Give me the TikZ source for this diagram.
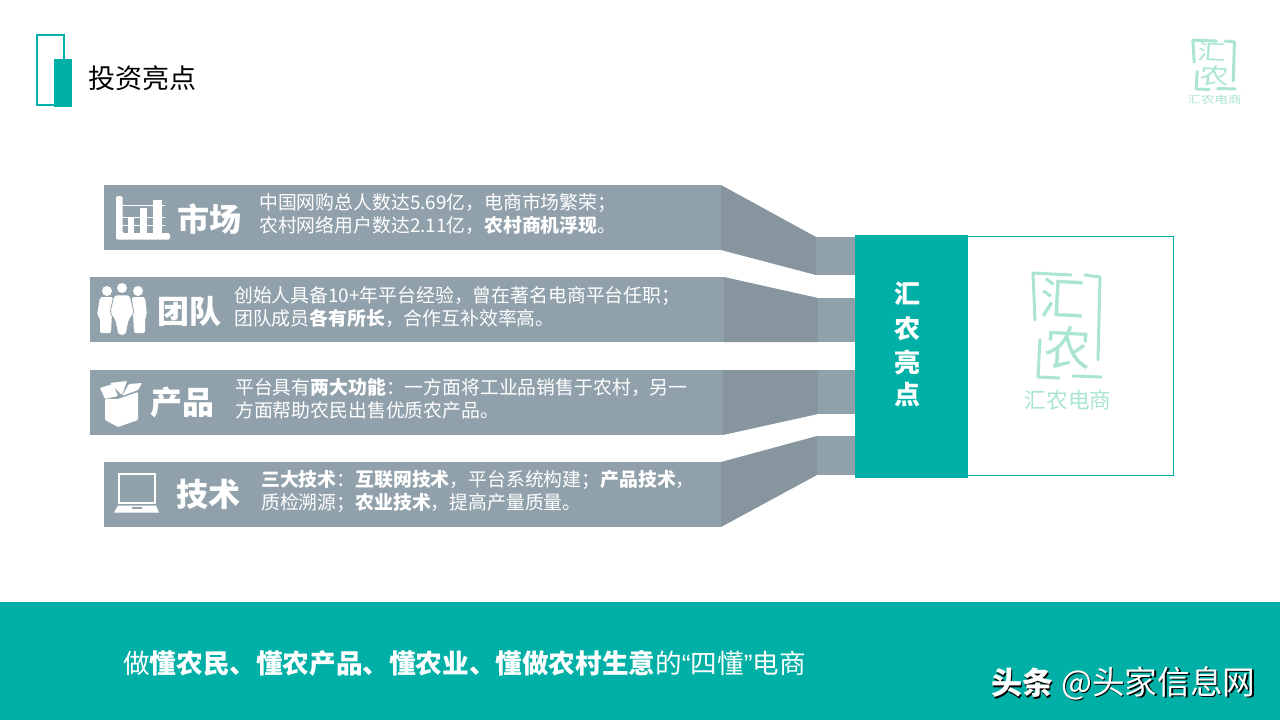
\documentclass[tikz,border=0pt]{standalone}
\usepackage{fontspec}
\setmainfont{Noto Sans CJK SC}
\newfontfamily\latinq{Liberation Sans}
\newcommand{\fs}[2]{\fontsize{#1}{#2}\selectfont}
\newcommand{\cmm}{\symbol{"FF0C}}
\newcommand{\sem}{\symbol{"FF1B}}
\newcommand{\cln}{\symbol{"FF1A}}
\definecolor{teal1}{HTML}{00AFA5}
\definecolor{bar1}{HTML}{91A1AB}
\definecolor{side1}{HTML}{87959E}
\definecolor{mint1}{HTML}{A9E5D0}
\tikzset{
  x=1pt,y=-1pt,
  barbox/.style={fill=bar1,draw=none},
  sidebox/.style={fill=side1,draw=none},
  icon/.style={fill=white,draw=none},
  bodytext/.style={anchor=west,inner sep=0pt,text=white,align=left,font=\fs{18.85}{23}},
  headtext/.style={anchor=center,inner sep=0pt,text=white,font=\fs{32}{32}\bfseries},
  vtext/.style={anchor=center,inner sep=0pt,text=white,font=\fs{26}{26}\bfseries},
  brush/.style={draw=mint1,line cap=round,line join=round,line width=3pt},
  logo/.pic={
    \draw[brush] (-34,-53) -- (4,-51);
    \draw[brush] (-34,-53) -- (-32,-6);
    \draw[brush] (18,-51) -- (33,-49) -- (31,34);
    \draw[brush] (-27,14) -- (-29,51) -- (-8,52);
    \draw[brush] (6,50) -- (34,51);
    \node[inner sep=0pt,text=mint1,font=\fs{45}{45},rotate=-3] at (-4,-27) {汇};
    \node[inner sep=0pt,text=mint1,font=\fs{47}{47},rotate=-3] at (1,22) {农};
    \node[inner sep=0pt,text=mint1,font=\fs{21.7}{22}] at (1,74) {汇农电商};
  }
}
\begin{document}
\begin{tikzpicture}
\useasboundingbox (0,0) rectangle (1280,720);
\fill[white] (0,0) rectangle (1280,720);
% header mark
\draw[teal1,line width=1.6pt] (37,35) rectangle (64,105);
\fill[teal1] (54,59) rectangle (72,107);
\node[anchor=west,inner sep=0pt,font=\fs{27}{27}] (title) at (88,78) {投资亮点};
% central panel
\draw[teal1,line width=0.8pt] (855,236.5) rectangle (1173.5,475.5);
% bars
\fill[barbox] (104,185) rectangle (721,250);
\fill[sidebox] (721,185) -- (816,237) -- (816,275) -- (721,250) -- cycle;
\fill[barbox] (816,237) rectangle (855,275);
\fill[barbox] (90,277) rectangle (724,342);
\fill[sidebox] (724,277) -- (818,298) -- (818,342) -- (724,342) -- cycle;
\fill[barbox] (818,298) rectangle (855,342);
\fill[barbox] (90,370) rectangle (723,435);
\fill[sidebox] (723,370) -- (818,370) -- (818,414) -- (723,435) -- cycle;
\fill[barbox] (818,370) rectangle (855,414);
\fill[barbox] (104,462) rectangle (721,527);
\fill[sidebox] (721,462) -- (817,436) -- (817,475) -- (721,527) -- cycle;
\fill[barbox] (817,436) rectangle (855,475);
% teal column
\fill[teal1] (855,235) rectangle (968,478);
\node[vtext] (v1) at (907,294) {汇};
\node[vtext] (v2) at (907,329) {农};
\node[vtext] (v3) at (907,362) {亮};
\node[vtext] (v4) at (907,395) {点};
% logos
\pic at (1067,326) {logo};
\pic[xscale=.62,yscale=.47,transform shape] at (1214,65) {logo};
% icon: chart
\fill[icon,rounded corners=1.5pt] (116,196) -- (122.5,196) -- (122.5,233) -- (170,233) -- (170,239.5) -- (116,239.5) -- cycle;
\fill[icon] (128,217) rectangle (134,233);
\fill[icon] (140,208) rectangle (147,233);
\fill[icon] (153,200) rectangle (162,233);
\draw[white,line width=.5pt] (122,205) -- (165,205) (122,217) -- (165,217) (122,225) -- (165,225);
% icon: people
\fill[icon] (107,291) circle (5) (122,288) circle (5) (138,291) circle (5);
\fill[icon,rounded corners=2pt] (100,297) -- (113,297) -- (112,312) -- (111,333) -- (100,333) -- (100,318) -- (97,315) -- cycle;
\fill[icon,rounded corners=2pt] (132,297) -- (145,297) -- (147,315) -- (145,318) -- (145,333) -- (134,333) -- (133,312) -- cycle;
\fill[icon,draw=bar1,line width=.8pt,rounded corners=2pt] (114,295) -- (130,295) -- (134,313) -- (129,320) -- (126,335) -- (118,335) -- (115,320) -- (110,313) -- cycle;
% icon: box
\fill[icon,rounded corners=1pt] (105,399) -- (118,399) -- (138,392) -- (138,420) -- (118,427) -- (105,420) -- cycle;
\fill[icon,rounded corners=1pt] (100,388) -- (113,384) -- (118,396) -- (105,399) -- cycle;
\fill[icon,rounded corners=1pt] (110,383) -- (127,381) -- (122,395) -- cycle;
\fill[icon,rounded corners=1pt] (129,384) -- (142,383) -- (138,390) -- (122,396) -- cycle;
% icon: laptop
\draw[white,line width=1.4pt] (119,474) rectangle (155,503);
\fill[icon] (118,505.5) -- (156,505.5) -- (159,512.5) -- (114,512.5) -- cycle;
\fill[bar1] (132,507) rectangle (142,509);
% heads
\node[headtext] (h1) at (209,219) {市场};
\node[headtext] (h2) at (189,311) {团队};
\node[headtext] (h3) at (182,402) {产品};
\node[headtext] (h4) at (208,494) {技术};
% body text
\node[bodytext] (t1) at (259,214) {中国网购总人数达5.69亿\cmm{}电商市场繁荣\sem\\农村网络用户数达2.11亿\cmm\textbf{农村商机浮现}。};
\node[bodytext] (t2) at (234,307) {创始人具备10+年平台经验\cmm{}曾在著名电商平台任职\sem\\团队成员\textbf{各有所长}\cmm{}合作互补效率高。};
\node[bodytext] (t3) at (235,399) {平台具有\textbf{两大功能}\cln{}一方面将工业品销售于农村\cmm{}另一\\方面帮助农民出售优质农产品。};
\node[bodytext] (t4) at (261,491) {\textbf{三大技术}\cln\textbf{互联网技术}\cmm{}平台系统构建\sem\textbf{产品技术}\cmm\\质检溯源\sem\textbf{农业技术}\cmm{}提高产量质量。};
% bottom band
\fill[teal1] (0,602) rectangle (1280,720);
\node[anchor=west,inner sep=0pt,text=white,font=\fs{26.6}{27}] (slogan) at (123,663) {做\textbf{懂农民、懂农产品、懂农业、懂做农村生意}的{\latinq “}四懂{\latinq ”}电商};
% watermark
\node[anchor=west,inner sep=0pt,text=black,font=\fs{32.7}{33}] (wms) at (1062.5,684.5) {@头家信息网};
\node[anchor=west,inner sep=0pt,text=white,font=\fs{32.7}{33}] (wm) at (1061,683) {@头家信息网};
\node[anchor=west,inner sep=0pt,text=black,font=\fs{31}{31}\bfseries] (wts) at (992.5,684.5) {头条};
\node[anchor=west,inner sep=0pt,text=white,font=\fs{31}{31}\bfseries] (wt) at (991,683) {头条};
\end{tikzpicture}
\end{document}
